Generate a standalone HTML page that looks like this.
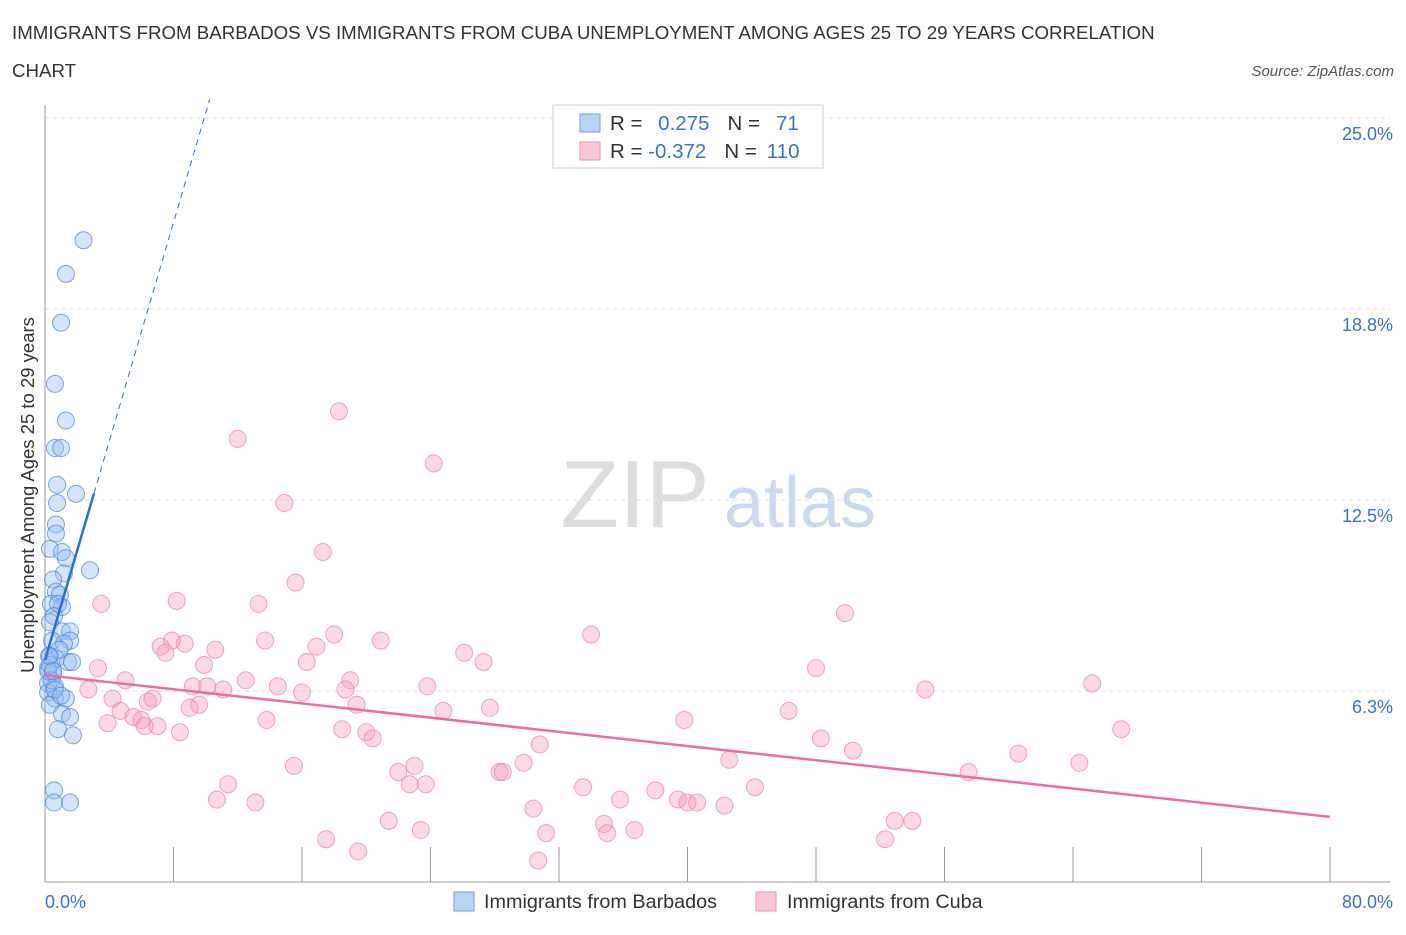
<!DOCTYPE html>
<html><head><meta charset="utf-8"><style>
body{margin:0;background:#fff;font-family:"Liberation Sans",sans-serif}
svg text{font-family:"Liberation Sans",sans-serif}
</style></head><body>
<svg id="c" width="1406" height="930" xmlns="http://www.w3.org/2000/svg">
<text x="12" y="39" font-size="18.7" fill="#333">IMMIGRANTS FROM BARBADOS VS IMMIGRANTS FROM CUBA UNEMPLOYMENT AMONG AGES 25 TO 29 YEARS CORRELATION</text>
<text x="12" y="77" font-size="18.7" fill="#333">CHART</text>
<text x="1394" y="76" font-size="15" fill="#555" font-style="italic" text-anchor="end">Source: ZipAtlas.com</text>
<text x="635" y="527" font-size="96" fill="#ddd" font-family="Liberation Serif" text-anchor="middle">ZIP</text>
<text x="800" y="527" font-size="72" fill="#c9d9ee" text-anchor="middle">atlas</text>
<text transform="translate(34,495) rotate(-90)" font-size="18.5" fill="#333" text-anchor="middle">Unemployment Among Ages 25 to 29 years</text>
<g id="grid"></g><g id="marks"></g>
<g>
<rect x="553" y="105" width="270" height="63" fill="#fff" stroke="#ccc"/>
<rect x="580" y="114" width="20" height="18" fill="#b9d3f5" stroke="#6f9fdf"/>
<rect x="580" y="142" width="20" height="18" fill="#f8c6d5" stroke="#e893ad"/>
<text x="610" y="130" font-size="20.5" fill="#333">R = <tspan fill="#3b73c9" dx="10">0.275</tspan><tspan dx="18" fill="#333">N =</tspan><tspan dx="16" fill="#3b73c9">71</tspan></text>
<text x="610" y="158" font-size="20.5" fill="#333">R = <tspan fill="#3b73c9">-0.372</tspan><tspan dx="18" fill="#333">N =</tspan><tspan dx="10" fill="#3b73c9">110</tspan></text>
</g>
<g>
<rect x="454" y="892" width="20" height="19" fill="#b9d3f5" stroke="#6f9fdf"/>
<text x="484" y="908" font-size="19.8" fill="#333">Immigrants from Barbados</text>
<rect x="756" y="892" width="20" height="19" fill="#f8c6d5" stroke="#e893ad"/>
<text x="787" y="908" font-size="19.8" fill="#333">Immigrants from Cuba</text>
</g>
</svg>
<script>
const yTicks=[6.3,12.5,18.8,25.0];
const xTickLabels=["0.0%","80.0%"];
const blueX=[2.4,1.3,1.0,0.62,1.3,0.62,1.0,0.75,1.93,0.75,0.68,0.68,0.31,1.06,1.3,1.18,2.8,0.5,0.68,0.93,0.37,1.06,0.81,0.56,0.31,1.06,1.56,1.56,0.44,1.18,0.31,0.68,1.43,1.68,0.19,0.5,0.19,0.62,0.19,0.62,1.3,0.31,1.06,1.56,0.81,1.74,0.56,0.56,1.56,0.2,0.4,0.9,0.3,0.6,1.0,0.25,0.5];
const blueY=[21.0,19.9,18.3,16.3,15.1,14.2,14.2,13.0,12.7,12.4,11.7,11.4,10.9,10.8,10.6,10.1,10.2,9.9,9.5,9.4,9.1,9.0,9.1,8.7,8.5,8.2,8.2,7.9,7.9,7.8,7.4,7.3,7.2,7.2,7.0,6.8,6.5,6.4,6.2,6.0,6.0,5.8,5.5,5.4,5.0,4.8,3.0,2.6,2.6,6.9,6.6,7.6,7.1,6.3,6.1,7.4,6.9];
const pinkX=[18.3,12.0,24.2,14.9,17.3,15.6,3.5,8.2,13.3,49.8,34.0,20.9,13.7,18.0,8.7,7.9,7.2,7.5,16.9,10.6,26.1,27.3,16.3,9.9,3.3,48.0,19.0,12.5,65.2,14.5,9.2,10.1,11.1,23.8,18.7,16.0,5.0,4.2,2.7,6.7,6.4,9.6,9.0,54.8,19.4,24.8,27.7,46.3,4.7,5.5,6.0,3.9,13.8,39.8,6.2,7.0,8.4,18.5,67.0,20.0,20.4,48.3,30.8,50.3,60.6,42.6,15.5,23.0,64.4,29.8,22.0,28.3,28.5,57.5,23.7,22.7,11.4,38.0,44.2,33.5,10.7,35.8,13.1,39.4,40.0,40.6,42.3,30.4,21.4,34.8,52.9,54.0,23.4,36.7,35.0,31.2,17.5,52.3,19.5,30.7];
const pinkY=[15.4,14.5,13.7,12.4,10.8,9.8,9.1,9.2,9.1,8.8,8.1,7.9,7.9,8.1,7.8,7.9,7.7,7.5,7.7,7.6,7.5,7.2,7.2,7.1,7.0,7.0,6.6,6.6,6.5,6.4,6.4,6.4,6.3,6.4,6.3,6.2,6.6,6.0,6.3,6.0,5.9,5.8,5.7,6.3,5.8,5.6,5.7,5.6,5.6,5.4,5.3,5.2,5.3,5.3,5.1,5.1,4.9,5.0,5.0,4.9,4.7,4.7,4.5,4.3,4.2,4.0,3.8,3.8,3.9,3.9,3.6,3.6,3.6,3.6,3.2,3.2,3.2,3.0,3.1,3.1,2.7,2.7,2.6,2.7,2.6,2.6,2.5,2.4,2.0,1.9,2.0,2.0,1.7,1.7,1.6,1.6,1.4,1.4,1.0,0.7];
const blueTrend=[7.26,1.79], pinkTrend=[6.77,-0.058];
const X0=45,X1=1330,Y0=882,PPY=30.56;
const sx=v=>X0+v/80*(X1-X0), sy=v=>Y0-v*PPY;
const NS="http://www.w3.org/2000/svg";
function mk(tag,at,parent){const e=document.createElementNS(NS,tag);for(const k in at)e.setAttribute(k,at[k]);parent.appendChild(e);return e;}
const g=document.getElementById('grid'),m=document.getElementById('marks');
yTicks.forEach(t=>{
 const y=sy(t===25.0?25:t===18.8?18.75:t===12.5?12.5:6.25);
 const l=mk('line',{x1:X0,x2:1390,y1:y,y2:y,stroke:'#e2e2e2','stroke-dasharray':'4,4'},g);
 
 
 const tx=mk('text',{x:1393,y:y+22,'font-size':18,fill:'#3b73c9','text-anchor':'end'},g);
 tx.textContent=t.toFixed(1)+'%';
 
 
});
const ax=mk('line',{x1:X0,x2:X0,y1:105,y2:Y0,stroke:'#999'},g);


const bx=mk('line',{x1:X0,x2:1390,y1:Y0,y2:Y0,stroke:'#999'},g);


for(let i=1;i<=10;i++){const x=sx(i*8);const t=mk('line',{x1:x,x2:x,y1:Y0-35,y2:Y0,stroke:'#999'},g);
 
 }
[[0,'start',45],[80,'end',1393]].forEach((a,i)=>{const t=mk('text',{x:a[2],y:908,'font-size':18,fill:'#3b73c9','text-anchor':a[1]},g);t.textContent=xTickLabels[i];
 
 });
pinkX.forEach((x,i)=>{const c=mk('circle',{cx:sx(x),cy:sy(pinkY[i]),r:8.5,fill:'rgba(243,160,188,0.4)',stroke:'rgba(232,130,165,0.7)'},m);
 
 });
blueX.forEach((x,i)=>{const c=mk('circle',{cx:sx(x),cy:sy(blueY[i]),r:8.5,fill:'rgba(150,190,240,0.4)',stroke:'rgba(70,130,215,0.7)'},m);
 
 });
const bt=x=>blueTrend[0]+blueTrend[1]*x, pt=x=>pinkTrend[0]+pinkTrend[1]*x;
const l1=mk('line',{x1:sx(0),y1:sy(bt(0)),x2:sx(3.05),y2:sy(bt(3.05)),stroke:'#2a6fd6','stroke-width':2.5},m);


const l2=mk('line',{x1:sx(3.05),y1:sy(bt(3.05)),x2:sx(10.25),y2:sy(bt(10.25)),stroke:'#2a6fd6','stroke-width':1,'stroke-dasharray':'6,5'},m);


const l3=mk('line',{x1:sx(0),y1:sy(pt(0)),x2:sx(80),y2:sy(pt(80)),stroke:'#e8709a','stroke-width':2.5},m);


</script>
</body></html>
